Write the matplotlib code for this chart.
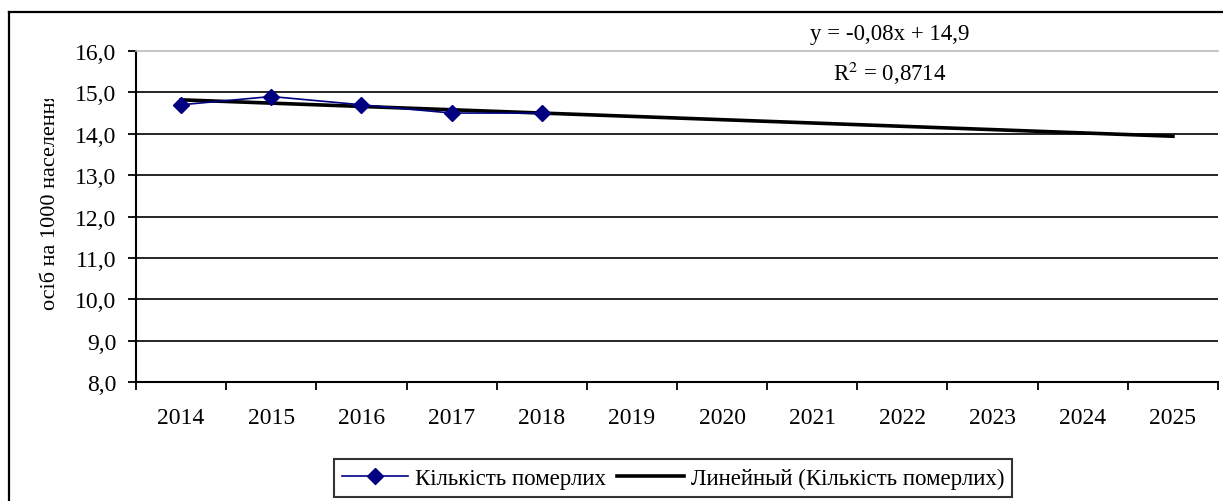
import matplotlib.pyplot as plt
from matplotlib.lines import Line2D
from matplotlib.patches import Rectangle
import numpy as np

years = ['2014', '2015', '2016', '2017', '2018', '2019', '2020',
         '2021', '2022', '2023', '2024', '2025']
deaths = [14.7, 14.9, 14.7, 14.5, 14.5]   # осіб на 1000 населення
y_ticks = [8.0, 9.0, 10.0, 11.0, 12.0, 13.0, 14.0, 15.0, 16.0]

plt.rcParams['font.family'] = ['Liberation Serif', 'DejaVu Serif']
plt.rcParams['mathtext.fontset'] = 'stix'
FS = 17

W, H = 1223, 502
fig = plt.figure(figsize=(W / 100, H / 100), dpi=100)
ax = fig.add_axes([136 / W, 1 - 383 / H, (1218 - 136) / W, (383 - 52) / H])

x = np.arange(1, len(years) + 1)
xd = x[:len(deaths)]

# linear trend over the known years, extended to 2025
k, b = np.polyfit(xd, deaths, 1)
ax.plot(x, k * x + b, color='black', lw=2.6, zorder=3,
        label='Линейный (Кількість померлих)')
ax.plot(xd, deaths, color='#000080', lw=1.2, marker='D', markersize=8,
        markerfacecolor='#000080', markeredgecolor='#000080', zorder=4,
        label='Кількість померлих')

ax.set_xlim(0.5, len(years) + 0.5)
ax.set_ylim(8, 16)
ax.set_yticks(y_ticks)
ax.set_yticklabels([f'{v:.1f}'.replace('.', ',') for v in y_ticks], fontsize=FS)
for v in y_ticks[1:-1]:
    ax.axhline(v, color='black', lw=1.2, zorder=1)

ax.set_xticks(x)
ax.set_xticklabels(years, fontsize=FS)
ax.set_xticks(np.arange(0.5, len(years) + 1), minor=True)
ax.tick_params(axis='x', which='major', length=0, pad=18)
ax.tick_params(axis='x', which='minor', length=6, width=1.3, direction='out')
ax.tick_params(axis='y', length=6, width=1.3, direction='out', pad=8)

ax.spines['right'].set_visible(False)
ax.spines['top'].set_color('#bbbbbb')
ax.spines['top'].set_linewidth(1.2)
ax.spines['left'].set_linewidth(1.5)
ax.spines['bottom'].set_linewidth(1.5)

# y label, clipped at top like the original
lbl = fig.text(51 / W, 1 - 310 / H, 'осіб на 1000 населення', rotation=90,
               ha='center', va='bottom', fontsize=16)
clip = Rectangle((0, 0), 1, 1 - 100 / H, transform=fig.transFigure,
                 facecolor='none', edgecolor='none')
fig.add_artist(clip)
lbl.set_clip_path(clip)

# trend equation
fig.text(890 / W, 1 - 35 / H, 'y = -0,08x + 14,9', ha='center', va='center',
         fontsize=16.5)
fig.text(890 / W, 1 - 73 / H, r'R$^{2}$ = 0,8714', ha='center', va='center',
         fontsize=16.5)

handles, labels = ax.get_legend_handles_labels()
leg = fig.legend(handles[::-1], labels[::-1], loc='center',
                 bbox_to_anchor=(673 / W, 1 - 479 / H), ncol=2, fontsize=16.5,
                 frameon=True, fancybox=False, handlelength=2.9,
                 handletextpad=0.3, columnspacing=0.5, borderpad=0.35,
                 borderaxespad=0)
leg.get_frame().set_edgecolor('black')
leg.get_frame().set_linewidth(1.5)

# outer chart border (cut off at right and bottom)
fig.add_artist(Line2D([9 / W, 9 / W], [0, 1 - 13 / H], color='black', lw=1.6))
fig.add_artist(Line2D([9 / W, 1], [1 - 13 / H, 1 - 13 / H], color='black', lw=1.6))

fig.savefig('out.png', dpi=100)
